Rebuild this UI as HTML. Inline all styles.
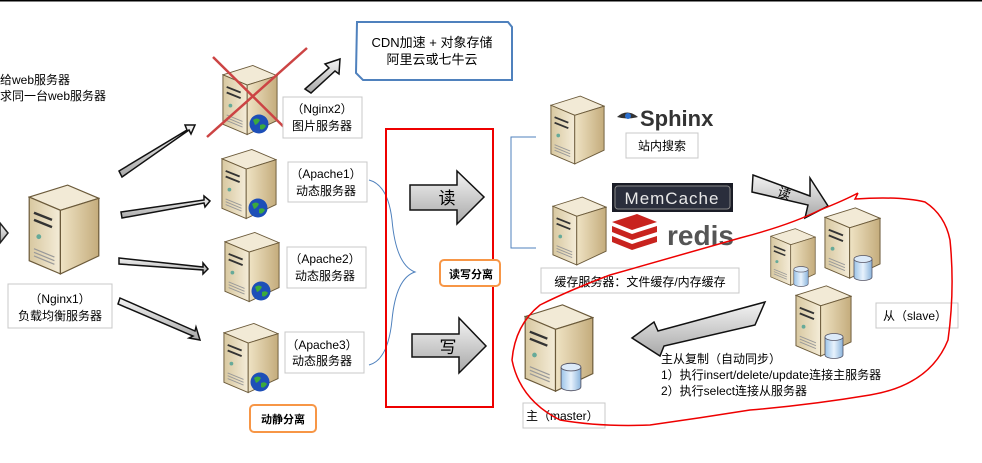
<!DOCTYPE html>
<html><head><meta charset="utf-8"><style>
body{margin:0;background:#fff;}
svg{display:block;font-family:"Liberation Sans","Noto Sans CJK SC",sans-serif;}
</style></head><body>
<svg width="982" height="463" viewBox="0 0 982 463" xmlns="http://www.w3.org/2000/svg">
<defs>
<linearGradient id="side" x1="0" y1="0" x2="1" y2="0"><stop offset="0" stop-color="#efe3c4"/><stop offset="1" stop-color="#c4ac7c"/></linearGradient>
<linearGradient id="front" x1="0" y1="0" x2="1" y2="0"><stop offset="0" stop-color="#d8c8a0"/><stop offset="1" stop-color="#f4ecd8"/></linearGradient>
<linearGradient id="ag" x1="0" y1="0" x2="0" y2="1"><stop offset="0" stop-color="#f4f4f4"/><stop offset="1" stop-color="#a8a8a8"/></linearGradient>
<linearGradient id="cyl" x1="0" y1="0" x2="1" y2="0"><stop offset="0" stop-color="#9cc4e8"/><stop offset="0.5" stop-color="#e8f2fc"/><stop offset="1" stop-color="#8ab4dc"/></linearGradient>
<symbol id="srv" viewBox="0 0 60 76">
<polygon points="1,11 33,1 59,12 27,22" fill="#f2ead6" stroke="#6b5a3a" stroke-width="1"/>
<polygon points="1,11 27,22 27,75 1,64" fill="url(#front)" stroke="#6b5a3a" stroke-width="1"/>
<polygon points="27,22 59,12 59,60 27,75" fill="url(#side)" stroke="#6b5a3a" stroke-width="1"/>
<line x1="5" y1="24" x2="20" y2="30" stroke="#333" stroke-width="2"/>
<line x1="5" y1="30" x2="20" y2="36" stroke="#333" stroke-width="2"/>
<circle cx="9" cy="44" r="2" fill="#6a9"/>
<line x1="5" y1="54" x2="22" y2="61" stroke="#999" stroke-width="1"/>
<line x1="5" y1="57" x2="22" y2="64" stroke="#999" stroke-width="1"/>
<line x1="5" y1="60" x2="22" y2="67" stroke="#999" stroke-width="1"/>
</symbol>
<symbol id="globe" viewBox="0 0 20 20"><circle cx="10" cy="10" r="9.5" fill="#1d4fb8"/><path d="M4 6 Q8 3 11 6 Q9 10 6 11 Z M11 11 Q15 9 17 12 Q14 17 11 15 Z" fill="#3caa3c"/></symbol>
<symbol id="db" viewBox="0 0 20 26"><path d="M1 4 V22 A9 3.5 0 0 0 19 22 V4" fill="url(#cyl)" stroke="#556" stroke-width="0.8"/><ellipse cx="10" cy="4" rx="9" ry="3.5" fill="#dceaf8" stroke="#556" stroke-width="0.8"/></symbol>
</defs>
<line x1="0" y1="0.5" x2="982" y2="0.5" stroke="#000" stroke-width="2"/>

<!-- left text -->
<text x="0" y="84" font-size="12">给web服务器</text>
<text x="0" y="100" font-size="12">求同一台web服务器</text>
<polygon points="0,223 8,233 0,243" fill="url(#ag)" stroke="#222" stroke-width="1.5"/>

<!-- servers -->
<use href="#srv" x="28" y="182" width="72" height="95"/>
<use href="#srv" x="222" y="64" width="56" height="72"/>
<use href="#globe" x="249" y="114" width="20" height="20"/>
<use href="#srv" x="221" y="148" width="56" height="72"/>
<use href="#globe" x="248" y="198" width="20" height="20"/>
<use href="#srv" x="224" y="231" width="56" height="72"/>
<use href="#globe" x="251" y="281" width="20" height="20"/>
<use href="#srv" x="223" y="322" width="56" height="72"/>
<use href="#globe" x="250" y="372" width="20" height="20"/>
<use href="#srv" x="550" y="94" width="55" height="72"/>
<use href="#srv" x="552" y="195" width="55" height="72"/>
<use href="#srv" x="524" y="302" width="70" height="92"/>
<use href="#db" x="560" y="362" width="22" height="30"/>
<use href="#srv" x="770" y="226" width="46" height="62"/>
<use href="#db" x="793" y="266" width="16" height="21"/>
<use href="#srv" x="824" y="205" width="57" height="76"/>
<use href="#db" x="853" y="255" width="20" height="26"/>
<use href="#srv" x="795" y="283" width="57" height="76"/>
<use href="#db" x="824" y="333" width="20" height="26"/>

<!-- red X -->
<line x1="213" y1="57" x2="294" y2="137" stroke="#c44" stroke-width="2.5"/>
<line x1="307" y1="48" x2="207" y2="137" stroke="#c44" stroke-width="2.5"/>

<!-- connector arrows from Nginx1 -->
<g fill="url(#ag)" stroke="#111" stroke-width="1.5">
<polygon points="119,171 187,130 185,125 195,125 191,134 189,130 122,177"/>
<polygon points="121,212 204,200 204,196 210,201 205,207 204,203 122,218"/>
<polygon points="119,258 203,267 203,263 208,269 203,274 203,270 119,264"/>
<polygon points="120,298 195,331 196,327 200,340 189,338 193,336 118,304"/>
<polygon points="305,89 329,68 325,64 340,59 339,74 335,71 311,93"/>
<!-- 读 写 -->
<polygon points="410,185 457,185 457,171 484,197 457,224 457,210 410,210"/>
<polygon points="412,334 459,334 459,318 486,346 459,373 459,357 412,357"/>
<!-- right side 读 -->
<polygon points="753,175 810,196 810,178 828,206 805,218 808,205 752,192"/>
<!-- master replication arrow -->
<polygon points="765,302 755,325 664,346 660,356 632,338 654,322 658,331"/>
</g>
<text x="447" y="204" font-size="17" text-anchor="middle">读</text>
<text x="448" y="353" font-size="17" text-anchor="middle">写</text>
<text x="784" y="198" font-size="13" transform="rotate(20 784 194)" text-anchor="middle">读</text>

<!-- CDN box -->
<path d="M357 22 H508 L512 27 V80 H363 L356 73 Z" fill="#fff" stroke="#4f81bd" stroke-width="2"/>
<text x="432" y="47" font-size="13" text-anchor="middle">CDN加速 + 对象存储</text>
<text x="432" y="64" font-size="13" text-anchor="middle">阿里云或七牛云</text>

<!-- label boxes -->
<g fill="#fff" stroke="#c8c8c8" stroke-width="1">
<rect x="283" y="97" width="79" height="41"/>
<rect x="288" y="162" width="79" height="40"/>
<rect x="287" y="247" width="79" height="41"/>
<rect x="285" y="332" width="79" height="41"/>
<rect x="8" y="284" width="104" height="44"/>
<rect x="626" y="133" width="72" height="25"/>
<rect x="541" y="268" width="198" height="25"/>
<rect x="876" y="303" width="82" height="25"/>
<rect x="523" y="403" width="82" height="25"/>
</g>
<g font-size="12" text-anchor="middle">
<text x="322" y="113">（Nginx2）</text><text x="322" y="130">图片服务器</text>
<text x="326" y="178">（Apache1）</text><text x="326" y="195">动态服务器</text>
<text x="325" y="263">（Apache2）</text><text x="325" y="280">动态服务器</text>
<text x="322" y="349">（Apache3）</text><text x="322" y="365">动态服务器</text>
<text x="60" y="303">（Nginx1）</text><text x="60" y="320">负载均衡服务器</text>
<text x="662" y="150">站内搜索</text>
<text x="640" y="286">缓存服务器：文件缓存/内存缓存</text>
<text x="915" y="320">从（slave）</text>
</g>
<text x="526" y="420" font-size="12">主（master）</text>
<g font-size="12">
<text x="661" y="363">主从复制（自动同步）</text>
<text x="661" y="379">1）执行insert/delete/update连接主服务器</text>
<text x="661" y="395">2）执行select连接从服务器</text>
</g>

<!-- braces -->
<path d="M369 180 Q388 185 392 220 Q396 265 415 272 Q396 278 392 320 Q388 360 369 365" fill="none" stroke="#4f81bd" stroke-width="1"/>
<path d="M536 137 H511 V248 H536" fill="none" stroke="#4f81bd" stroke-width="1"/>

<!-- red rect -->
<rect x="386" y="129" width="107" height="278" fill="none" stroke="#e00" stroke-width="2"/>

<!-- orange boxes -->
<rect x="440" y="260" width="60" height="26" rx="4" fill="#fff" stroke="#f79646" stroke-width="2"/>
<text x="449" y="278" font-size="11" font-weight="bold">读写分离</text>
<rect x="250" y="405" width="66" height="27" rx="4" fill="#fff" stroke="#f79646" stroke-width="2"/>
<text x="283" y="423" font-size="11" font-weight="bold" text-anchor="middle">动静分离</text>

<!-- Sphinx -->
<path d="M617 117 Q627 108 638 117 Q627 120 617 117 Z" fill="#333"/><circle cx="628" cy="116" r="3" fill="#2a6fd0"/>
<text x="640" y="126" font-size="22" font-weight="bold" fill="#333">Sphinx</text>
<!-- MemCache -->
<rect x="612" y="183" width="121" height="29" fill="#1a1c26"/>
<rect x="615" y="186" width="115" height="23" rx="3" fill="#2a2e3c" stroke="#888" stroke-width="1"/>
<text x="672" y="204" font-size="17" fill="#e8e8e8" text-anchor="middle" letter-spacing="1">MemCache</text>
<!-- redis -->
<g fill="#c8231e"><path d="M612 222 L637 214 L657 222 L632 230 Z"/><path d="M612 226 L632 234 L657 226 V232 L632 240 L612 232 Z"/><path d="M612 236 L632 244 L657 236 V242 L632 250 L612 242 Z"/></g>
<text x="667" y="245" font-size="28" font-weight="bold" fill="#555">redis</text>

<!-- red freehand loop -->
<path d="M858 193 L855 199 Q900 196 925 202 Q945 215 950 240 Q955 290 948 340 Q930 385 870 395 Q810 405 750 410 Q700 418 650 425 Q600 427 560 420 Q520 400 512 360 Q515 325 540 305 Q570 290 610 275 Q680 255 740 238 Q790 225 820 210 Q845 200 858 193" fill="none" stroke="#e00" stroke-width="1.5"/>
</svg>
</body></html>
